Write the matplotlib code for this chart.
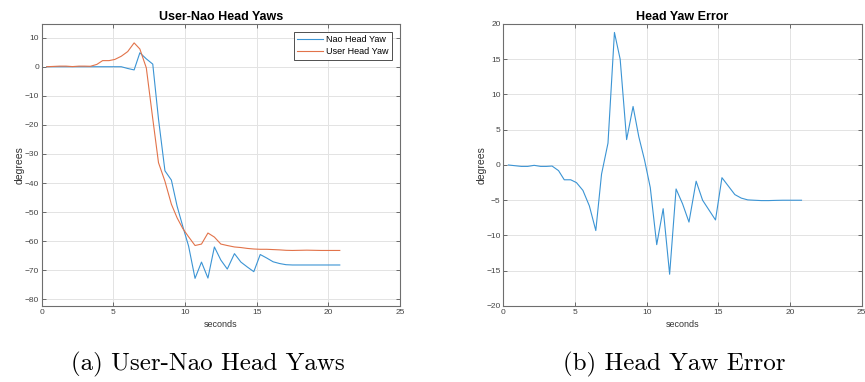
import matplotlib
matplotlib.use("Agg")
import matplotlib.pyplot as plt

# sample times (s), shared by all three series
t = [0.35, 0.8, 1.25, 1.7, 2.15, 2.6, 3.0, 3.4, 3.85, 4.25, 4.7, 5.1, 5.55,
     6.0, 6.45, 6.85, 7.3, 7.75, 8.15, 8.6, 9.05, 9.45, 9.85, 10.25, 10.7,
     11.15, 11.6, 12.05, 12.5, 12.95, 13.45, 13.9, 14.35, 14.8, 15.25, 15.7,
     16.15, 16.6, 17.05, 17.5, 18.0, 18.5, 19.0, 19.5, 20.0, 20.4, 20.8]

nao_yaw = [0, 0, 0, 0, 0, 0, 0, 0, 0, 0, 0, 0, 0,
           -0.6, -1.1, 4.8, 2.7, 0.9, -18, -35.8, -39, -48, -55, -61.7, -72.8,
           -67.2, -72.7, -62, -66.5, -69.6, -64.3, -67.2, -68.9, -70.5, -64.6, -65.8,
           -67.1, -67.7, -68.1, -68.2, -68.2, -68.2, -68.2, -68.2, -68.2, -68.2, -68.2]

user_yaw = [0, 0.1, 0.2, 0.2, 0.05, 0.2, 0.2, 0.15, 0.8, 2.1, 2.1, 2.5, 3.6,
            5.2, 8.2, 6.1, -0.4, -17.9, -33, -39.4, -47.3, -52, -55.7, -58.5, -61.5,
            -61, -57.2, -58.6, -61, -61.5, -62, -62.2, -62.5, -62.7, -62.8, -62.8,
            -62.9, -63, -63.15, -63.2, -63.15, -63.1, -63.15, -63.2, -63.2, -63.2, -63.2]

yaw_error = [0, -0.1, -0.2, -0.2, -0.05, -0.2, -0.2, -0.15, -0.8, -2.1, -2.1, -2.5, -3.6,
             -5.8, -9.3, -1.3, 3.1, 18.8, 15.0, 3.6, 8.3, 4.0, 0.7, -3.2, -11.3,
             -6.2, -15.5, -3.4, -5.5, -8.1, -2.3, -5.0, -6.4, -7.8, -1.8, -3.0,
             -4.2, -4.7, -4.95, -5.0, -5.05, -5.05, -5.02, -5.0, -5.0, -5.0, -5.0]

BLUE, ORANGE = "#3b94d4", "#e2734a"

plt.rcParams["font.family"] = ["Liberation Sans", "DejaVu Sans"]


def _matlab_axes(ax, title, ylim, yticks):
    ax.set_xlim(0, 25)
    ax.set_ylim(*ylim)
    ax.set_xticks(range(0, 26, 5))
    ax.set_yticks(yticks)
    ax.grid(True, color="#e3e3e3", lw=0.7)
    ax.set_axisbelow(True)
    for sp in ax.spines.values():
        sp.set_color("#6e6e6e")
        sp.set_linewidth(0.8)
    ax.tick_params(direction="in", length=3, width=0.6, color="#555555",
                   labelsize=6, labelcolor="#444444", top=True, right=True, pad=2)
    ax.set_title(title, fontsize=9, fontweight="bold", pad=3)
    ax.set_xlabel("seconds", fontsize=6.5, color="#333333", labelpad=3)
    ax.set_ylabel("degrees", fontsize=7.5, color="#333333", labelpad=0)


fig = plt.figure(figsize=(8.65, 3.82), dpi=100)
ax1 = fig.add_axes([0.0482, 0.199, 0.4142, 0.7382])
ax2 = fig.add_axes([0.5819, 0.199, 0.4143, 0.7382])

ax1.plot(t, nao_yaw, color=BLUE, lw=0.8, label="Nao Head Yaw")
ax1.plot(t, user_yaw, color=ORANGE, lw=0.8, label="User Head Yaw")
_matlab_axes(ax1, "User-Nao Head Yaws", (-82.3, 14.7), range(-80, 11, 10))
leg = ax1.legend(loc="upper right", fontsize=6.5, fancybox=False, framealpha=1,
                 edgecolor="#333333", borderaxespad=0.9, handlelength=2.8,
                 handletextpad=0.4, labelspacing=0.35, borderpad=0.35)
leg.get_frame().set_linewidth(0.6)

ax2.plot(t, yaw_error, color=BLUE, lw=0.8)
_matlab_axes(ax2, "Head Yaw Error", (-20, 20), range(-20, 21, 5))

fig.text(0.240, 0.047, "(a) User-Nao Head Yaws", ha="center", va="center",
         fontsize=18, family="cmr10")
fig.text(0.780, 0.047, "(b) Head Yaw Error", ha="center", va="center",
         fontsize=18, family="cmr10")

fig.savefig("out.png", dpi=100)
